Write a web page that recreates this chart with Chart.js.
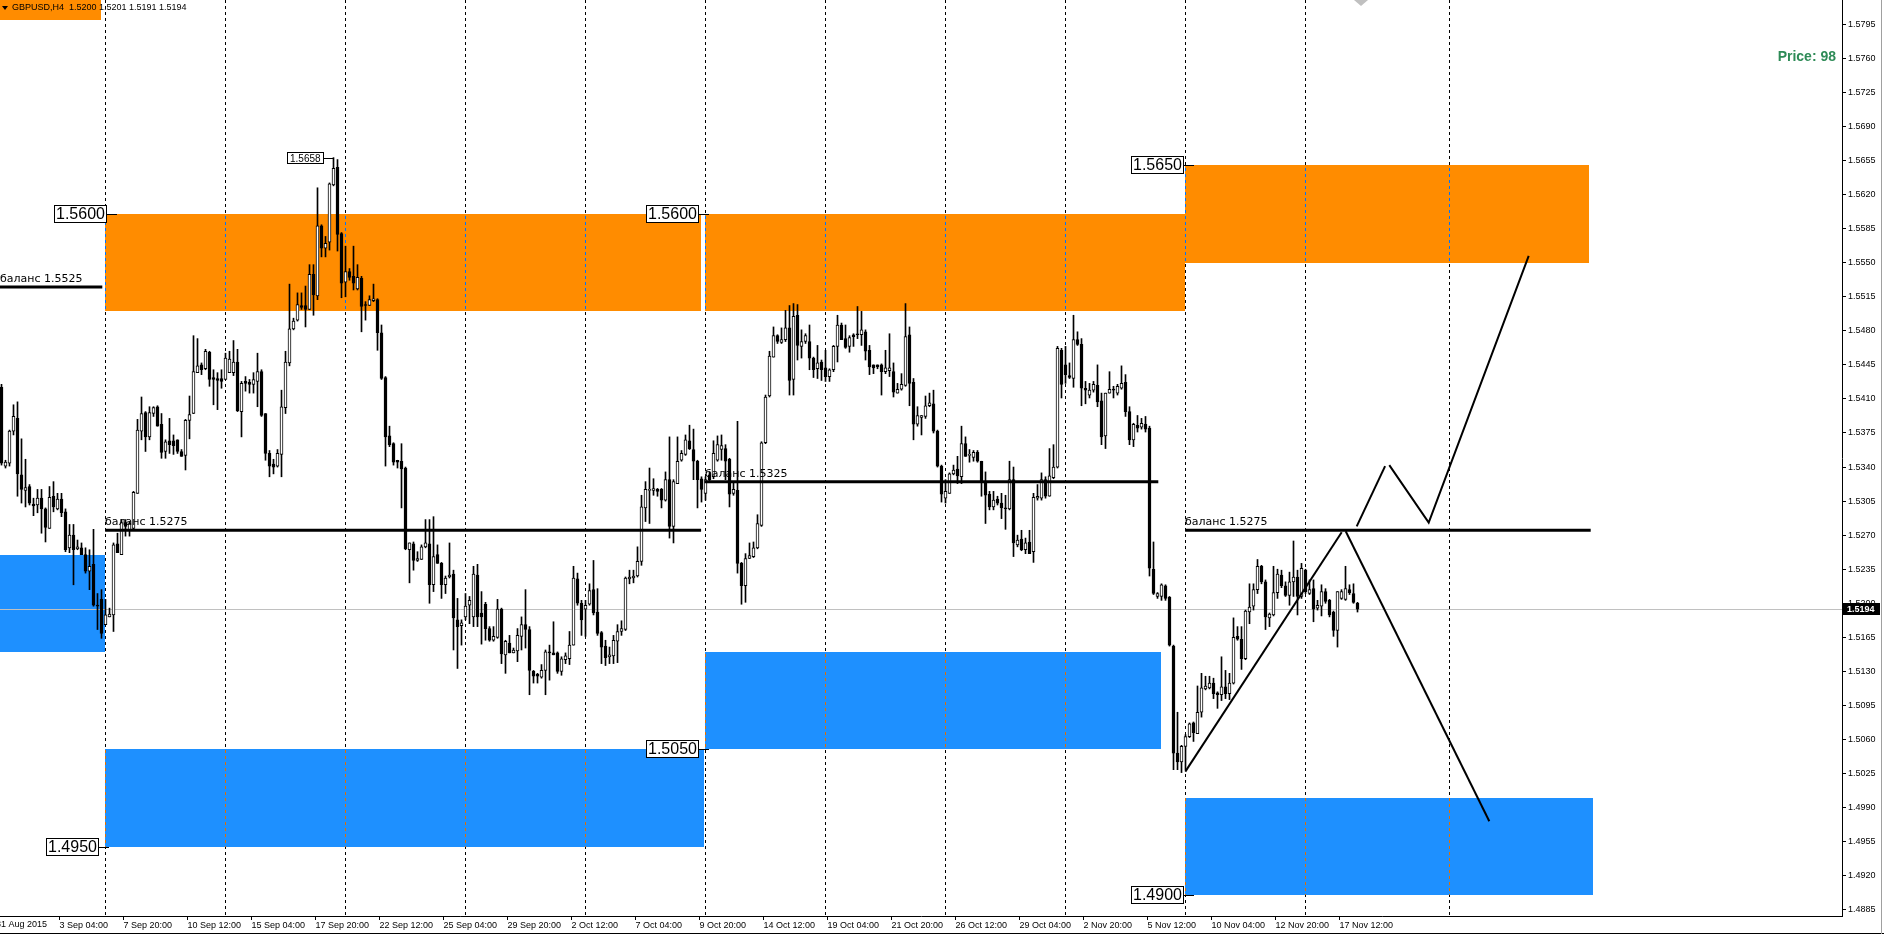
<!DOCTYPE html>
<html>
<head>
<meta charset="utf-8">
<title>GBPUSD,H4</title>
<script src="https://cdn.jsdelivr.net/npm/chart.js@4.4.1/dist/chart.umd.min.js"></script>
<style>
  html, body { margin: 0; padding: 0; background: #fff; }
  #wrap { width: 1884px; height: 936px; }
</style>
</head>
<body>
<div id="wrap"><canvas id="chart" width="1884" height="936"></canvas></div>
<script>
// GBPUSD H4, bars from 31 Aug 2015 to 17 Nov 2015 (index 0 = first visible bar)
const opens = [
  1.5422,1.5341,1.5344,1.5377,1.5390,1.5332,1.5316,1.5320,1.5302,1.5301,
  1.5308,1.5297,1.5277,1.5310,1.5297,1.5307,1.5294,1.5257,1.5270,1.5256,
  1.5257,1.5250,1.5233,1.5240,1.5198,1.5204,1.5178,1.5186,1.5188,1.5261,
  1.5250,1.5283,1.5275,1.5277,1.5313,1.5377,1.5396,1.5371,1.5395,1.5402,
  1.5384,1.5356,1.5367,1.5367,1.5368,1.5356,1.5352,1.5388,1.5395,1.5437,
  1.5445,1.5441,1.5458,1.5432,1.5431,1.5431,1.5430,1.5437,1.5437,1.5448,
  1.5397,1.5428,1.5427,1.5425,1.5428,1.5438,1.5395,1.5354,1.5343,1.5341,
  1.5353,1.5401,1.5447,1.5482,1.5491,1.5506,1.5506,1.5502,1.5538,1.5516,
  1.5588,1.5565,1.5571,1.5630,1.5648,1.5580,1.5530,1.5541,1.5536,1.5523,
  1.5534,1.5507,1.5506,1.5511,1.5512,1.5478,1.5432,1.5372,1.5364,1.5347,
  1.5346,1.5339,1.5255,1.5261,1.5244,1.5245,1.5258,1.5261,1.5219,1.5250,
  1.5241,1.5219,1.5227,1.5230,1.5183,1.5177,1.5186,1.5198,1.5186,1.5229,
  1.5190,1.5199,1.5174,1.5162,1.5165,1.5194,1.5147,1.5159,1.5149,1.5151,
  1.5166,1.5178,1.5173,1.5130,1.5127,1.5124,1.5131,1.5150,1.5149,1.5149,
  1.5130,1.5142,1.5143,1.5157,1.5225,1.5200,1.5194,1.5199,1.5214,1.5191,
  1.5170,1.5156,1.5145,1.5146,1.5161,1.5171,1.5173,1.5225,1.5226,1.5228,
  1.5243,1.5298,1.5316,1.5316,1.5317,1.5317,1.5306,1.5327,1.5279,1.5323,
  1.5347,1.5353,1.5367,1.5358,1.5346,1.5328,1.5313,1.5332,1.5330,1.5347,
  1.5358,1.5359,1.5348,1.5313,1.5316,1.5241,1.5218,1.5246,1.5248,1.5257,
  1.5280,1.5365,1.5413,1.5453,1.5475,1.5468,1.5471,1.5483,1.5430,1.5496,
  1.5464,1.5469,1.5469,1.5452,1.5441,1.5448,1.5442,1.5433,1.5440,1.5464,
  1.5486,1.5472,1.5464,1.5476,1.5477,1.5476,1.5479,1.5460,1.5445,1.5445,
  1.5445,1.5438,1.5439,1.5438,1.5416,1.5420,1.5424,1.5476,1.5427,1.5384,
  1.5391,1.5392,1.5403,1.5405,1.5377,1.5341,1.5308,1.5313,1.5333,1.5338,
  1.5330,1.5364,1.5352,1.5350,1.5355,1.5346,1.5325,1.5312,1.5299,1.5307,
  1.5303,1.5298,1.5297,1.5327,1.5260,1.5266,1.5255,1.5263,1.5253,1.5308,
  1.5308,1.5327,1.5310,1.5329,1.5340,1.5460,1.5445,1.5434,1.5431,1.5471,
  1.5466,1.5421,1.5414,1.5419,1.5424,1.5408,1.5372,1.5416,1.5420,1.5416,
  1.5421,1.5427,1.5397,1.5368,1.5383,1.5381,1.5384,1.5380,1.5235,1.5207,
  1.5207,1.5218,1.5206,1.5156,1.5046,1.5037,1.5053,1.5063,1.5077,1.5066,
  1.5088,1.5112,1.5113,1.5118,1.5108,1.5106,1.5114,1.5107,1.5118,1.5166,
  1.5163,1.5143,1.5191,1.5197,1.5214,1.5238,1.5222,1.5185,1.5188,1.5211,
  1.5229,1.5218,1.5208,1.5222,1.5227,1.5207,1.5234,1.5210,1.5215,1.5195,
  1.5197,1.5212,1.5203,1.5191,1.5172,1.5205,1.5204,1.5214,1.5210,1.5200
];
const highs = [
  1.5425,1.5347,1.5378,1.5404,1.5407,1.5369,1.5348,1.5322,1.5308,1.5317,
  1.5317,1.5298,1.5320,1.5325,1.5313,1.5313,1.5297,1.5281,1.5281,1.5265,
  1.5262,1.5257,1.5255,1.5276,1.5210,1.5214,1.5204,1.5195,1.5262,1.5272,
  1.5286,1.5286,1.5284,1.5315,1.5389,1.5412,1.5397,1.5402,1.5402,1.5403,
  1.5395,1.5368,1.5390,1.5373,1.5368,1.5358,1.5389,1.5413,1.5475,1.5472,
  1.5447,1.5461,1.5459,1.5440,1.5437,1.5440,1.5457,1.5459,1.5470,1.5461,
  1.5428,1.5433,1.5430,1.5437,1.5457,1.5440,1.5395,1.5357,1.5348,1.5358,
  1.5419,1.5459,1.5528,1.5493,1.5519,1.5519,1.5526,1.5548,1.5548,1.5627,
  1.5589,1.5577,1.5632,1.5658,1.5656,1.5581,1.5567,1.5544,1.5567,1.5548,
  1.5536,1.5510,1.5516,1.5528,1.5513,1.5486,1.5433,1.5382,1.5365,1.5347,
  1.5364,1.5340,1.5262,1.5263,1.5253,1.5260,1.5286,1.5286,1.5289,1.5260,
  1.5242,1.5228,1.5262,1.5234,1.5205,1.5183,1.5210,1.5207,1.5238,1.5240,
  1.5212,1.5201,1.5176,1.5176,1.5204,1.5195,1.5162,1.5167,1.5154,1.5174,
  1.5186,1.5214,1.5176,1.5131,1.5128,1.5137,1.5152,1.5157,1.5181,1.5150,
  1.5145,1.5149,1.5171,1.5238,1.5231,1.5203,1.5203,1.5220,1.5244,1.5215,
  1.5171,1.5162,1.5155,1.5167,1.5178,1.5182,1.5227,1.5234,1.5234,1.5258,
  1.5311,1.5325,1.5339,1.5328,1.5318,1.5318,1.5335,1.5371,1.5327,1.5371,
  1.5357,1.5373,1.5383,1.5379,1.5347,1.5330,1.5330,1.5335,1.5367,1.5372,
  1.5373,1.5363,1.5349,1.5325,1.5387,1.5242,1.5251,1.5262,1.5263,1.5291,
  1.5366,1.5414,1.5459,1.5484,1.5476,1.5483,1.5501,1.5506,1.5508,1.5507,
  1.5481,1.5477,1.5486,1.5453,1.5465,1.5450,1.5460,1.5441,1.5465,1.5496,
  1.5488,1.5486,1.5475,1.5477,1.5505,1.5500,1.5481,1.5465,1.5445,1.5445,
  1.5446,1.5460,1.5477,1.5447,1.5426,1.5436,1.5508,1.5484,1.5431,1.5402,
  1.5393,1.5413,1.5416,1.5419,1.5378,1.5342,1.5327,1.5334,1.5342,1.5351,
  1.5382,1.5371,1.5358,1.5357,1.5357,1.5346,1.5335,1.5315,1.5315,1.5310,
  1.5313,1.5311,1.5346,1.5340,1.5270,1.5275,1.5267,1.5275,1.5313,1.5322,
  1.5334,1.5330,1.5359,1.5363,1.5464,1.5462,1.5464,1.5447,1.5496,1.5479,
  1.5472,1.5428,1.5426,1.5428,1.5445,1.5416,1.5416,1.5438,1.5423,1.5425,
  1.5444,1.5435,1.5402,1.5385,1.5393,1.5390,1.5392,1.5382,1.5263,1.5211,
  1.5220,1.5219,1.5207,1.5157,1.5088,1.5054,1.5065,1.5077,1.5078,1.5115,
  1.5128,1.5125,1.5125,1.5123,1.5109,1.5145,1.5131,1.5128,1.5185,1.5176,
  1.5176,1.5193,1.5220,1.5220,1.5245,1.5239,1.5224,1.5190,1.5238,1.5235,
  1.5234,1.5222,1.5232,1.5264,1.5234,1.5241,1.5235,1.5224,1.5224,1.5203,
  1.5219,1.5215,1.5204,1.5192,1.5212,1.5214,1.5238,1.5219,1.5220,1.5201
];
const lows = [
  1.5342,1.5339,1.5341,1.5373,1.5310,1.5303,1.5299,1.5301,1.5290,1.5293,
  1.5272,1.5263,1.5277,1.5294,1.5296,1.5289,1.5253,1.5252,1.5219,1.5255,
  1.5250,1.5231,1.5214,1.5197,1.5173,1.5164,1.5178,1.5186,1.5171,1.5252,
  1.5250,1.5269,1.5269,1.5275,1.5313,1.5368,1.5356,1.5368,1.5392,1.5382,
  1.5349,1.5349,1.5354,1.5353,1.5354,1.5351,1.5337,1.5369,1.5395,1.5437,
  1.5435,1.5440,1.5423,1.5404,1.5399,1.5421,1.5430,1.5437,1.5434,1.5397,
  1.5371,1.5418,1.5416,1.5416,1.5402,1.5392,1.5347,1.5330,1.5333,1.5340,
  1.5330,1.5395,1.5444,1.5481,1.5490,1.5502,1.5484,1.5502,1.5496,1.5512,
  1.5556,1.5556,1.5563,1.5629,1.5562,1.5514,1.5515,1.5532,1.5522,1.5522,
  1.5479,1.5491,1.5506,1.5510,1.5460,1.5430,1.5341,1.5361,1.5342,1.5339,
  1.5298,1.5255,1.5221,1.5234,1.5243,1.5245,1.5257,1.5200,1.5212,1.5241,
  1.5205,1.5210,1.5226,1.5152,1.5133,1.5157,1.5183,1.5179,1.5176,1.5176,
  1.5158,1.5162,1.5161,1.5161,1.5164,1.5138,1.5128,1.5149,1.5149,1.5140,
  1.5152,1.5154,1.5106,1.5118,1.5118,1.5123,1.5106,1.5121,1.5147,1.5128,
  1.5126,1.5138,1.5137,1.5157,1.5198,1.5167,1.5166,1.5198,1.5188,1.5167,
  1.5138,1.5136,1.5138,1.5138,1.5139,1.5167,1.5172,1.5220,1.5221,1.5227,
  1.5239,1.5284,1.5282,1.5311,1.5310,1.5298,1.5305,1.5267,1.5262,1.5323,
  1.5346,1.5352,1.5358,1.5327,1.5298,1.5304,1.5306,1.5325,1.5328,1.5346,
  1.5347,1.5327,1.5299,1.5311,1.5231,1.5199,1.5201,1.5246,1.5247,1.5256,
  1.5279,1.5364,1.5412,1.5453,1.5467,1.5467,1.5469,1.5414,1.5414,1.5450,
  1.5452,1.5467,1.5440,1.5432,1.5431,1.5429,1.5428,1.5428,1.5438,1.5448,
  1.5471,1.5462,1.5458,1.5464,1.5472,1.5465,1.5450,1.5435,1.5436,1.5441,
  1.5414,1.5436,1.5433,1.5412,1.5416,1.5419,1.5423,1.5403,1.5368,1.5382,
  1.5373,1.5390,1.5402,1.5375,1.5340,1.5304,1.5303,1.5313,1.5332,1.5323,
  1.5323,1.5351,1.5345,1.5346,1.5345,1.5310,1.5282,1.5296,1.5296,1.5301,
  1.5287,1.5276,1.5296,1.5248,1.5258,1.5254,1.5251,1.5251,1.5242,1.5306,
  1.5306,1.5308,1.5310,1.5328,1.5339,1.5411,1.5426,1.5431,1.5422,1.5465,
  1.5403,1.5405,1.5411,1.5417,1.5402,1.5363,1.5359,1.5416,1.5411,1.5414,
  1.5420,1.5392,1.5363,1.5361,1.5376,1.5379,1.5376,1.5228,1.5209,1.5205,
  1.5203,1.5203,1.5156,1.5029,1.5029,1.5026,1.5029,1.5062,1.5058,1.5066,
  1.5083,1.5111,1.5112,1.5102,1.5092,1.5100,1.5102,1.5101,1.5117,1.5162,
  1.5132,1.5142,1.5179,1.5193,1.5210,1.5220,1.5173,1.5176,1.5187,1.5205,
  1.5216,1.5207,1.5198,1.5207,1.5188,1.5205,1.5210,1.5209,1.5181,1.5193,
  1.5187,1.5200,1.5186,1.5166,1.5155,1.5204,1.5203,1.5209,1.5200,1.5191
];
const closes = [
  1.5344,1.5345,1.5377,1.5392,1.5333,1.5317,1.5319,1.5303,1.5300,1.5308,
  1.5297,1.5278,1.5309,1.5299,1.5307,1.5293,1.5255,1.5270,1.5255,1.5258,
  1.5250,1.5233,1.5238,1.5198,1.5197,1.5169,1.5188,1.5189,1.5260,1.5252,
  1.5283,1.5279,1.5282,1.5314,1.5378,1.5395,1.5371,1.5396,1.5401,1.5382,
  1.5355,1.5366,1.5363,1.5362,1.5356,1.5351,1.5388,1.5394,1.5438,1.5444,
  1.5440,1.5459,1.5430,1.5430,1.5429,1.5428,1.5452,1.5451,1.5448,1.5398,
  1.5426,1.5426,1.5425,1.5430,1.5438,1.5393,1.5354,1.5341,1.5340,1.5354,
  1.5402,1.5448,1.5482,1.5490,1.5507,1.5504,1.5502,1.5538,1.5517,1.5588,
  1.5565,1.5570,1.5631,1.5647,1.5579,1.5529,1.5541,1.5535,1.5529,1.5535,
  1.5505,1.5506,1.5512,1.5513,1.5478,1.5431,1.5371,1.5363,1.5345,1.5345,
  1.5338,1.5256,1.5262,1.5244,1.5246,1.5258,1.5262,1.5219,1.5248,1.5241,
  1.5219,1.5226,1.5229,1.5185,1.5176,1.5180,1.5197,1.5203,1.5230,1.5186,
  1.5186,1.5174,1.5162,1.5166,1.5194,1.5148,1.5161,1.5149,1.5152,1.5167,
  1.5178,1.5173,1.5131,1.5125,1.5125,1.5131,1.5150,1.5149,1.5147,1.5130,
  1.5143,1.5146,1.5157,1.5226,1.5200,1.5183,1.5198,1.5213,1.5190,1.5169,
  1.5155,1.5144,1.5147,1.5162,1.5171,1.5174,1.5226,1.5227,1.5228,1.5243,
  1.5299,1.5317,1.5317,1.5318,1.5315,1.5306,1.5327,1.5279,1.5325,1.5346,
  1.5354,1.5368,1.5359,1.5346,1.5327,1.5317,1.5327,1.5327,1.5354,1.5363,
  1.5362,1.5346,1.5312,1.5317,1.5241,1.5218,1.5246,1.5249,1.5257,1.5282,
  1.5365,1.5412,1.5454,1.5475,1.5469,1.5471,1.5483,1.5429,1.5495,1.5465,
  1.5469,1.5475,1.5452,1.5440,1.5447,1.5440,1.5433,1.5440,1.5464,1.5486,
  1.5471,1.5463,1.5473,1.5474,1.5476,1.5481,1.5459,1.5443,1.5442,1.5443,
  1.5438,1.5442,1.5442,1.5417,1.5420,1.5425,1.5474,1.5426,1.5384,1.5393,
  1.5393,1.5403,1.5406,1.5377,1.5341,1.5312,1.5315,1.5333,1.5337,1.5331,
  1.5364,1.5351,1.5353,1.5355,1.5346,1.5325,1.5311,1.5299,1.5306,1.5303,
  1.5298,1.5297,1.5327,1.5262,1.5265,1.5255,1.5262,1.5251,1.5309,1.5310,
  1.5327,1.5310,1.5331,1.5340,1.5462,1.5425,1.5435,1.5432,1.5471,1.5466,
  1.5421,1.5419,1.5419,1.5425,1.5407,1.5371,1.5416,1.5420,1.5419,1.5423,
  1.5426,1.5397,1.5368,1.5384,1.5380,1.5385,1.5379,1.5236,1.5210,1.5210,
  1.5219,1.5205,1.5157,1.5046,1.5037,1.5053,1.5063,1.5076,1.5067,1.5088,
  1.5113,1.5115,1.5118,1.5107,1.5106,1.5114,1.5107,1.5118,1.5165,1.5163,
  1.5143,1.5192,1.5196,1.5214,1.5238,1.5222,1.5186,1.5189,1.5211,1.5230,
  1.5218,1.5208,1.5222,1.5227,1.5207,1.5236,1.5212,1.5214,1.5194,1.5198,
  1.5212,1.5202,1.5188,1.5172,1.5212,1.5212,1.5215,1.5211,1.5201,1.5194
];

// time axis: bar index of each label, and the label text
const timeTickIdx = [15, 31, 47, 63, 79, 95, 111, 127, 143, 159, 175, 191, 207, 223, 239, 255, 271, 287, 303, 319, 335];
const timeLabels = ['3 Sep 04:00', '7 Sep 20:00', '10 Sep 12:00', '15 Sep 04:00', '17 Sep 20:00', '22 Sep 12:00',
  '25 Sep 04:00', '29 Sep 20:00', '2 Oct 12:00', '7 Oct 04:00', '9 Oct 20:00', '14 Oct 12:00', '19 Oct 04:00',
  '21 Oct 20:00', '26 Oct 12:00', '29 Oct 04:00', '2 Nov 20:00', '5 Nov 12:00', '10 Nov 04:00', '12 Nov 20:00', '17 Nov 12:00'];
const firstLabel = '31 Aug 2015';
// weekly period separators (bar index)
const separatorIdx = [26, 56, 86, 116, 146, 176, 206, 236, 266, 296, 326, 362];
// price axis ticks
const yTicks = [1.4885, 1.4920, 1.4955, 1.4990, 1.5025, 1.5060, 1.5095, 1.5130, 1.5165, 1.5200, 1.5235, 1.5270,
  1.5305, 1.5340, 1.5375, 1.5410, 1.5445, 1.5480, 1.5515, 1.5550, 1.5585, 1.5620, 1.5655, 1.5690, 1.5725,
  1.5760, 1.5795];
const bid = 1.5194;
const xView = [-0.375, 460.125];
const yView = [1.48786, 1.58200];

// chart objects: supply / demand zones (bar range, price range)
const ORANGE = '#FF8C00', BLUE = '#1E90FF';
const zones = [
  {from: -0.375, to: 24.8, lo: 1.5799, hi: 1.5830, color: ORANGE},
  {from: -0.375, to: 25.9, lo: 1.5150, hi: 1.5250, color: BLUE},
  {from: 25.9, to: 174.9, lo: 1.5500, hi: 1.5600, color: ORANGE},
  {from: 25.9, to: 175.6, lo: 1.4950, hi: 1.5050, color: BLUE},
  {from: 175.75, to: 295.9, lo: 1.5500, hi: 1.5600, color: ORANGE},
  {from: 175.75, to: 289.8, lo: 1.5050, hi: 1.5150, color: BLUE},
  {from: 295.9, to: 396.9, lo: 1.5550, hi: 1.5650, color: ORANGE},
  {from: 295.9, to: 397.8, lo: 1.4900, hi: 1.5000, color: BLUE}
];
// balance lines
const balances = [
  {from: -0.375, to: 25.2, price: 1.5525},
  {from: 25.9, to: 174.9, price: 1.5275},
  {from: 175.75, to: 289.2, price: 1.5325},
  {from: 295.9, to: 397.3, price: 1.5275}
];
// zone price tags (bar index of the tag's right edge)
const priceTags = [
  {at: 26.4, price: 1.5600}, {at: 174.45, price: 1.5600}, {at: 295.5, price: 1.5650},
  {at: 174.4, price: 1.5050}, {at: 24.25, price: 1.4950}, {at: 295.5, price: 1.4900}
];
const highTag = {bar: 83, price: 1.5658};
// forecast trend lines
const trendLines = [
  [[295.95, 1.5027], [335.05, 1.5273]],
  [[336.05, 1.5274], [371.95, 1.4976]],
  [[338.8, 1.5279], [345.9, 1.5341]],
  [[346.95, 1.5342], [356.8, 1.5283], [381.8, 1.5557]]
];

const AXIS_FONT = "'Liberation Sans', Arial, sans-serif";
const bars = opens.map((_, j) => j);
const up = bars.map(j => closes[j] >= opens[j]);

const datasets = [
  {
    type: 'bar', order: 5, grouped: false, barThickness: 1, borderWidth: 0,
    backgroundColor: '#000',
    data: bars.map(j => ({x: j, y: [lows[j], highs[j]]}))
  },
  {
    type: 'bar', order: 4, grouped: false, barThickness: 3, minBarLength: 1,
    borderWidth: 1, borderSkipped: false, borderColor: '#000',
    backgroundColor: up.map(u => u ? '#fff' : '#000'),
    data: bars.map(j => ({x: j, y: [opens[j], closes[j]]}))
  }
];
balances.forEach(b => datasets.push({
  type: 'line', order: 1, borderColor: '#000', borderWidth: 3, pointRadius: 0,
  data: [{x: b.from, y: b.price}, {x: b.to, y: b.price}]
}));
trendLines.forEach(t => datasets.push({
  type: 'line', order: 1, borderColor: '#000', borderWidth: 2, pointRadius: 0,
  data: t.map(p => ({x: p[0], y: p[1]}))
}));

function drawTag(c, text, xr, yc, font, padX, h) {
  c.font = font;
  const w = Math.round(c.measureText(text).width) + padX * 2;
  const x0 = Math.round(xr - w), y0 = Math.round(yc - h / 2);
  c.fillStyle = '#fff';
  c.fillRect(x0, y0, w, h);
  c.strokeStyle = '#000';
  c.lineWidth = 1;
  c.strokeRect(x0 + 0.5, y0 + 0.5, w - 1, h - 1);
  c.fillStyle = '#000';
  c.textBaseline = 'middle';
  c.textAlign = 'left';
  c.fillText(text, x0 + padX, y0 + h / 2 + 1);
  return x0 + w;
}

const mt4 = {
  id: 'mt4',
  beforeDraw(chart) {
    const c = chart.ctx;
    c.save();
    c.fillStyle = '#fff';
    c.fillRect(0, 0, chart.width, chart.height);
    c.restore();
  },
  beforeDatasetsDraw(chart) {
    const c = chart.ctx, a = chart.chartArea, x = chart.scales.x, y = chart.scales.y;
    c.save();
    c.beginPath();
    c.rect(a.left, a.top, a.right - a.left, a.bottom - a.top);
    c.clip();
    zones.forEach(z => {
      const x0 = Math.round(x.getPixelForValue(z.from)), x1 = Math.round(x.getPixelForValue(z.to));
      const y0 = Math.round(y.getPixelForValue(z.hi)), y1 = Math.round(y.getPixelForValue(z.lo));
      c.fillStyle = z.color;
      c.fillRect(x0, y0, x1 - x0, y1 - y0);
    });
    // period separators, inverted like MT4 draws them
    c.globalCompositeOperation = 'difference';
    c.strokeStyle = '#fff';
    c.lineWidth = 1;
    c.setLineDash([3, 3]);
    separatorIdx.forEach(s => {
      const px = Math.floor(x.getPixelForValue(s)) + 0.5;
      c.beginPath();
      c.moveTo(px, a.top);
      c.lineTo(px, a.bottom);
      c.stroke();
    });
    c.globalCompositeOperation = 'source-over';
    c.setLineDash([]);
    const by = Math.round(y.getPixelForValue(bid)) + 0.5;
    c.strokeStyle = '#C0C0C0';
    c.beginPath();
    c.moveTo(a.left, by);
    c.lineTo(a.right, by);
    c.stroke();
    c.restore();
  },
  afterDatasetsDraw(chart) {
    const c = chart.ctx, x = chart.scales.x, y = chart.scales.y;
    c.save();
    c.font = "11px 'DejaVu Sans', sans-serif";
    c.fillStyle = '#000';
    c.textBaseline = 'alphabetic';
    balances.forEach(b => {
      c.fillText('баланс ' + b.price.toFixed(4), Math.round(x.getPixelForValue(b.from)), Math.round(y.getPixelForValue(b.price)) - 5);
    });
    priceTags.forEach(t => {
      const yc = Math.round(y.getPixelForValue(t.price));
      const xr = drawTag(c, t.price.toFixed(4), Math.round(x.getPixelForValue(t.at)), yc, "16px 'Liberation Sans', Arial, sans-serif", 2, 18);
      c.strokeStyle = '#000';
      c.beginPath();
      c.moveTo(xr, yc + 0.5);
      c.lineTo(xr + 10, yc + 0.5);
      c.stroke();
    });
    const hx = x.getPixelForValue(highTag.bar), hy = Math.round(y.getPixelForValue(highTag.price));
    const xr = drawTag(c, highTag.price.toFixed(4), hx - 10, hy, "10px " + AXIS_FONT, 3, 12);
    c.beginPath();
    c.moveTo(xr, hy + 0.5);
    c.lineTo(Math.round(hx), hy + 0.5);
    c.stroke();
    c.restore();
  },
  afterDraw(chart) {
    const c = chart.ctx, a = chart.chartArea, y = chart.scales.y;
    c.save();
    // header
    c.fillStyle = '#000';
    c.beginPath();
    c.moveTo(2, 6); c.lineTo(8, 6); c.lineTo(5, 10); c.closePath();
    c.fill();
    c.font = "9px " + AXIS_FONT;
    c.textBaseline = 'middle';
    c.fillText('GBPUSD,H4  1.5200 1.5201 1.5191 1.5194', 12, 8);
    // profit text
    c.font = "bold 14px " + AXIS_FONT;
    c.fillStyle = '#2E8B57';
    c.textAlign = 'right';
    c.fillText('Price: 98', a.right - 6, 57);
    // current price on the axis
    const py = Math.round(y.getPixelForValue(bid));
    c.fillStyle = '#000';
    c.fillRect(a.right + 1, py - 6, 37, 12);
    c.fillStyle = '#fff';
    c.textAlign = 'left';
    c.font = "bold 9px " + AXIS_FONT;
    c.fillText(bid.toFixed(4), a.right + 5, py + 0.5);
    // first date label at the left edge
    c.fillStyle = '#000';
    c.font = "9px " + AXIS_FONT;
    c.textBaseline = 'top';
    c.fillText(firstLabel, -4, a.bottom + 4);
    // window frame
    c.strokeStyle = '#000';
    c.beginPath();
    c.moveTo(0, 933.5); c.lineTo(chart.width, 933.5);
    c.stroke();
    c.strokeStyle = '#A0A0A0';
    c.beginPath();
    c.moveTo(1881.5, 0); c.lineTo(1881.5, 934);
    c.stroke();
    // small marker at the top
    c.fillStyle = '#C0C0C0';
    c.beginPath();
    c.moveTo(1354, 0); c.lineTo(1368, 0); c.lineTo(1361, 6); c.closePath();
    c.fill();
    c.restore();
  }
};

new Chart(document.getElementById('chart'), {
  type: 'bar',
  data: {datasets},
  options: {
    responsive: false,
    devicePixelRatio: 1,
    animation: false,
    events: [],
    layout: {padding: 0},
    plugins: {legend: {display: false}, tooltip: {enabled: false}},
    scales: {
      x: {
        type: 'linear', min: xView[0], max: xView[1], offset: false,
        afterBuildTicks: s => { s.ticks = timeTickIdx.map(v => ({value: v - 0.5})); },
        afterFit: s => { s.height = 20; s.paddingLeft = 0; s.paddingRight = 0; },
        ticks: {
          callback: (v, i) => timeLabels[i], align: 'start', maxRotation: 0, autoSkip: false,
          padding: 0, color: '#000', font: {family: AXIS_FONT, size: 9}
        },
        grid: {drawOnChartArea: false, drawTicks: true, tickLength: 4, color: '#000', offset: false},
        border: {color: '#000', width: 1}
      },
      y: {
        type: 'linear', position: 'right', min: yView[0], max: yView[1], beginAtZero: false,
        afterBuildTicks: s => { s.ticks = yTicks.map(v => ({value: v})); },
        afterFit: s => { s.width = 42; s.paddingTop = 0; s.paddingBottom = 0; },
        ticks: {
          callback: v => v.toFixed(4), autoSkip: false, padding: 2, color: '#000',
          font: {family: AXIS_FONT, size: 9}
        },
        grid: {drawOnChartArea: false, drawTicks: true, tickLength: 4, color: '#000'},
        border: {color: '#000', width: 1}
      }
    }
  },
  plugins: [mt4]
});
</script>
</body>
</html>
